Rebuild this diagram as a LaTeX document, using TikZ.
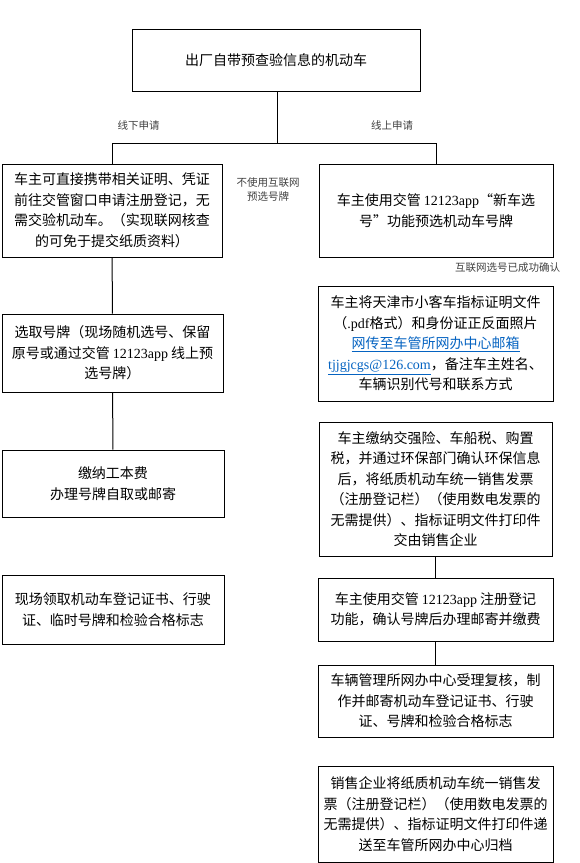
\documentclass[tikz,border=0pt]{standalone}
\usepackage{xcolor}
\usepackage{fontspec}
\usepackage{tikz}
\usetikzlibrary{positioning, calc}
\setmainfont{Noto Sans CJK SC}
\newfontfamily\latfont{Liberation Serif}
\definecolor{linkBlue}{HTML}{0563C1}
\definecolor{noteGray}{HTML}{404040}
\newcommand{\weblink}[1]{\textcolor{linkBlue}{\underline{#1}}}

\begin{document}
\begin{tikzpicture}[x=1pt, y=-1pt,
    box/.style={draw, line width=1pt, inner sep=0pt, align=center, font=\fontsize{14}{20.5}\selectfont},
    note/.style={inner sep=0pt, align=center, text=noteGray, font=\fontsize{10.5}{14}\selectfont},
    link/.style={line width=1pt},
]
    \useasboundingbox (0,0) rectangle (580,863);

    \node[box, minimum width=288pt, minimum height=62pt] (start) at (276, 60) {出厂自带预查验信息的机动车};

    % offline branch
    \node[box, minimum width=220pt, minimum height=93pt] (counter) at (112, 210.5) {车主可直接携带相关证明、凭证\\前往交管窗口申请注册登记，无\\需交验机动车。（实现联网核查\\的可免于提交纸质资料）};
    \node[box, minimum width=221pt, minimum height=78pt] (choose) at (112.5, 353) {选取号牌（现场随机选号、保留\\原号或通过交管 {\latfont 12123app} 线上预\\选号牌）};
    \node[box, minimum width=222pt, minimum height=67pt] (fee) at (113, 483.5) {缴纳工本费\\办理号牌自取或邮寄};
    \node[box, minimum width=222pt, minimum height=69pt] (collect) at (113, 609.5) {现场领取机动车登记证书、行驶\\证、临时号牌和检验合格标志};

    % online branch
    \node[box, minimum width=234pt, minimum height=93pt] (app) at (436, 210.5) {车主使用交管 {\latfont 12123app}“新车选\\号”功能预选机动车号牌};
    \node[box, minimum width=235pt, minimum height=115pt] (mail) at (435.5, 343.5) {车主将天津市小客车指标证明文件\\（{\latfont .pdf}格式）和身份证正反面照片\\\weblink{网传至车管所网办中心邮箱}\\\weblink{\latfont tjjgjcgs@126.com}，备注车主姓名、\\车辆识别代号和联系方式};
    \node[box, minimum width=233pt, minimum height=134pt] (tax) at (435.5, 489) {车主缴纳交强险、车船税、购置\\税，并通过环保部门确认环保信息\\后，将纸质机动车统一销售发票\\（注册登记栏）（使用数电发票的\\无需提供）、指标证明文件打印件\\交由销售企业};
    \node[box, minimum width=235pt, minimum height=63pt] (register) at (435.5, 609.5) {车主使用交管 {\latfont 12123app} 注册登记\\功能，确认号牌后办理邮寄并缴费};
    \node[box, minimum width=235pt, minimum height=72pt] (review) at (435.5, 701) {车辆管理所网办中心受理复核，制\\作并邮寄机动车登记证书、行驶\\证、号牌和检验合格标志};
    \node[box, minimum width=235pt, minimum height=96pt] (archive) at (435.5, 814) {销售企业将纸质机动车统一销售发\\票（注册登记栏）（使用数电发票的\\无需提供）、指标证明文件打印件递\\送至车管所网办中心归档};

    % notes
    \node[note] (offline) at (138.5, 125) {线下申请};
    \node[note] (online) at (392, 125) {线上申请};
    \node[note] (noweb) at (268, 190) {不使用互联网\\预选号牌};
    \node[note] (webok) at (507.5, 268) {互联网选号已成功确认};

    % connectors
    \coordinate (split) at (277, 143.5);
    \draw[link] (start.south -| split) -- (split);
    \draw[link] (split) -| (counter.north);
    \draw[link] (split) -| (app.north);
    \draw[link] (counter) -- (choose);
    \draw[link] (choose) -- (fee);
    \draw[link] (tax) -- (register);
    \draw[link] (register) -- (review);
\end{tikzpicture}
\end{document}
